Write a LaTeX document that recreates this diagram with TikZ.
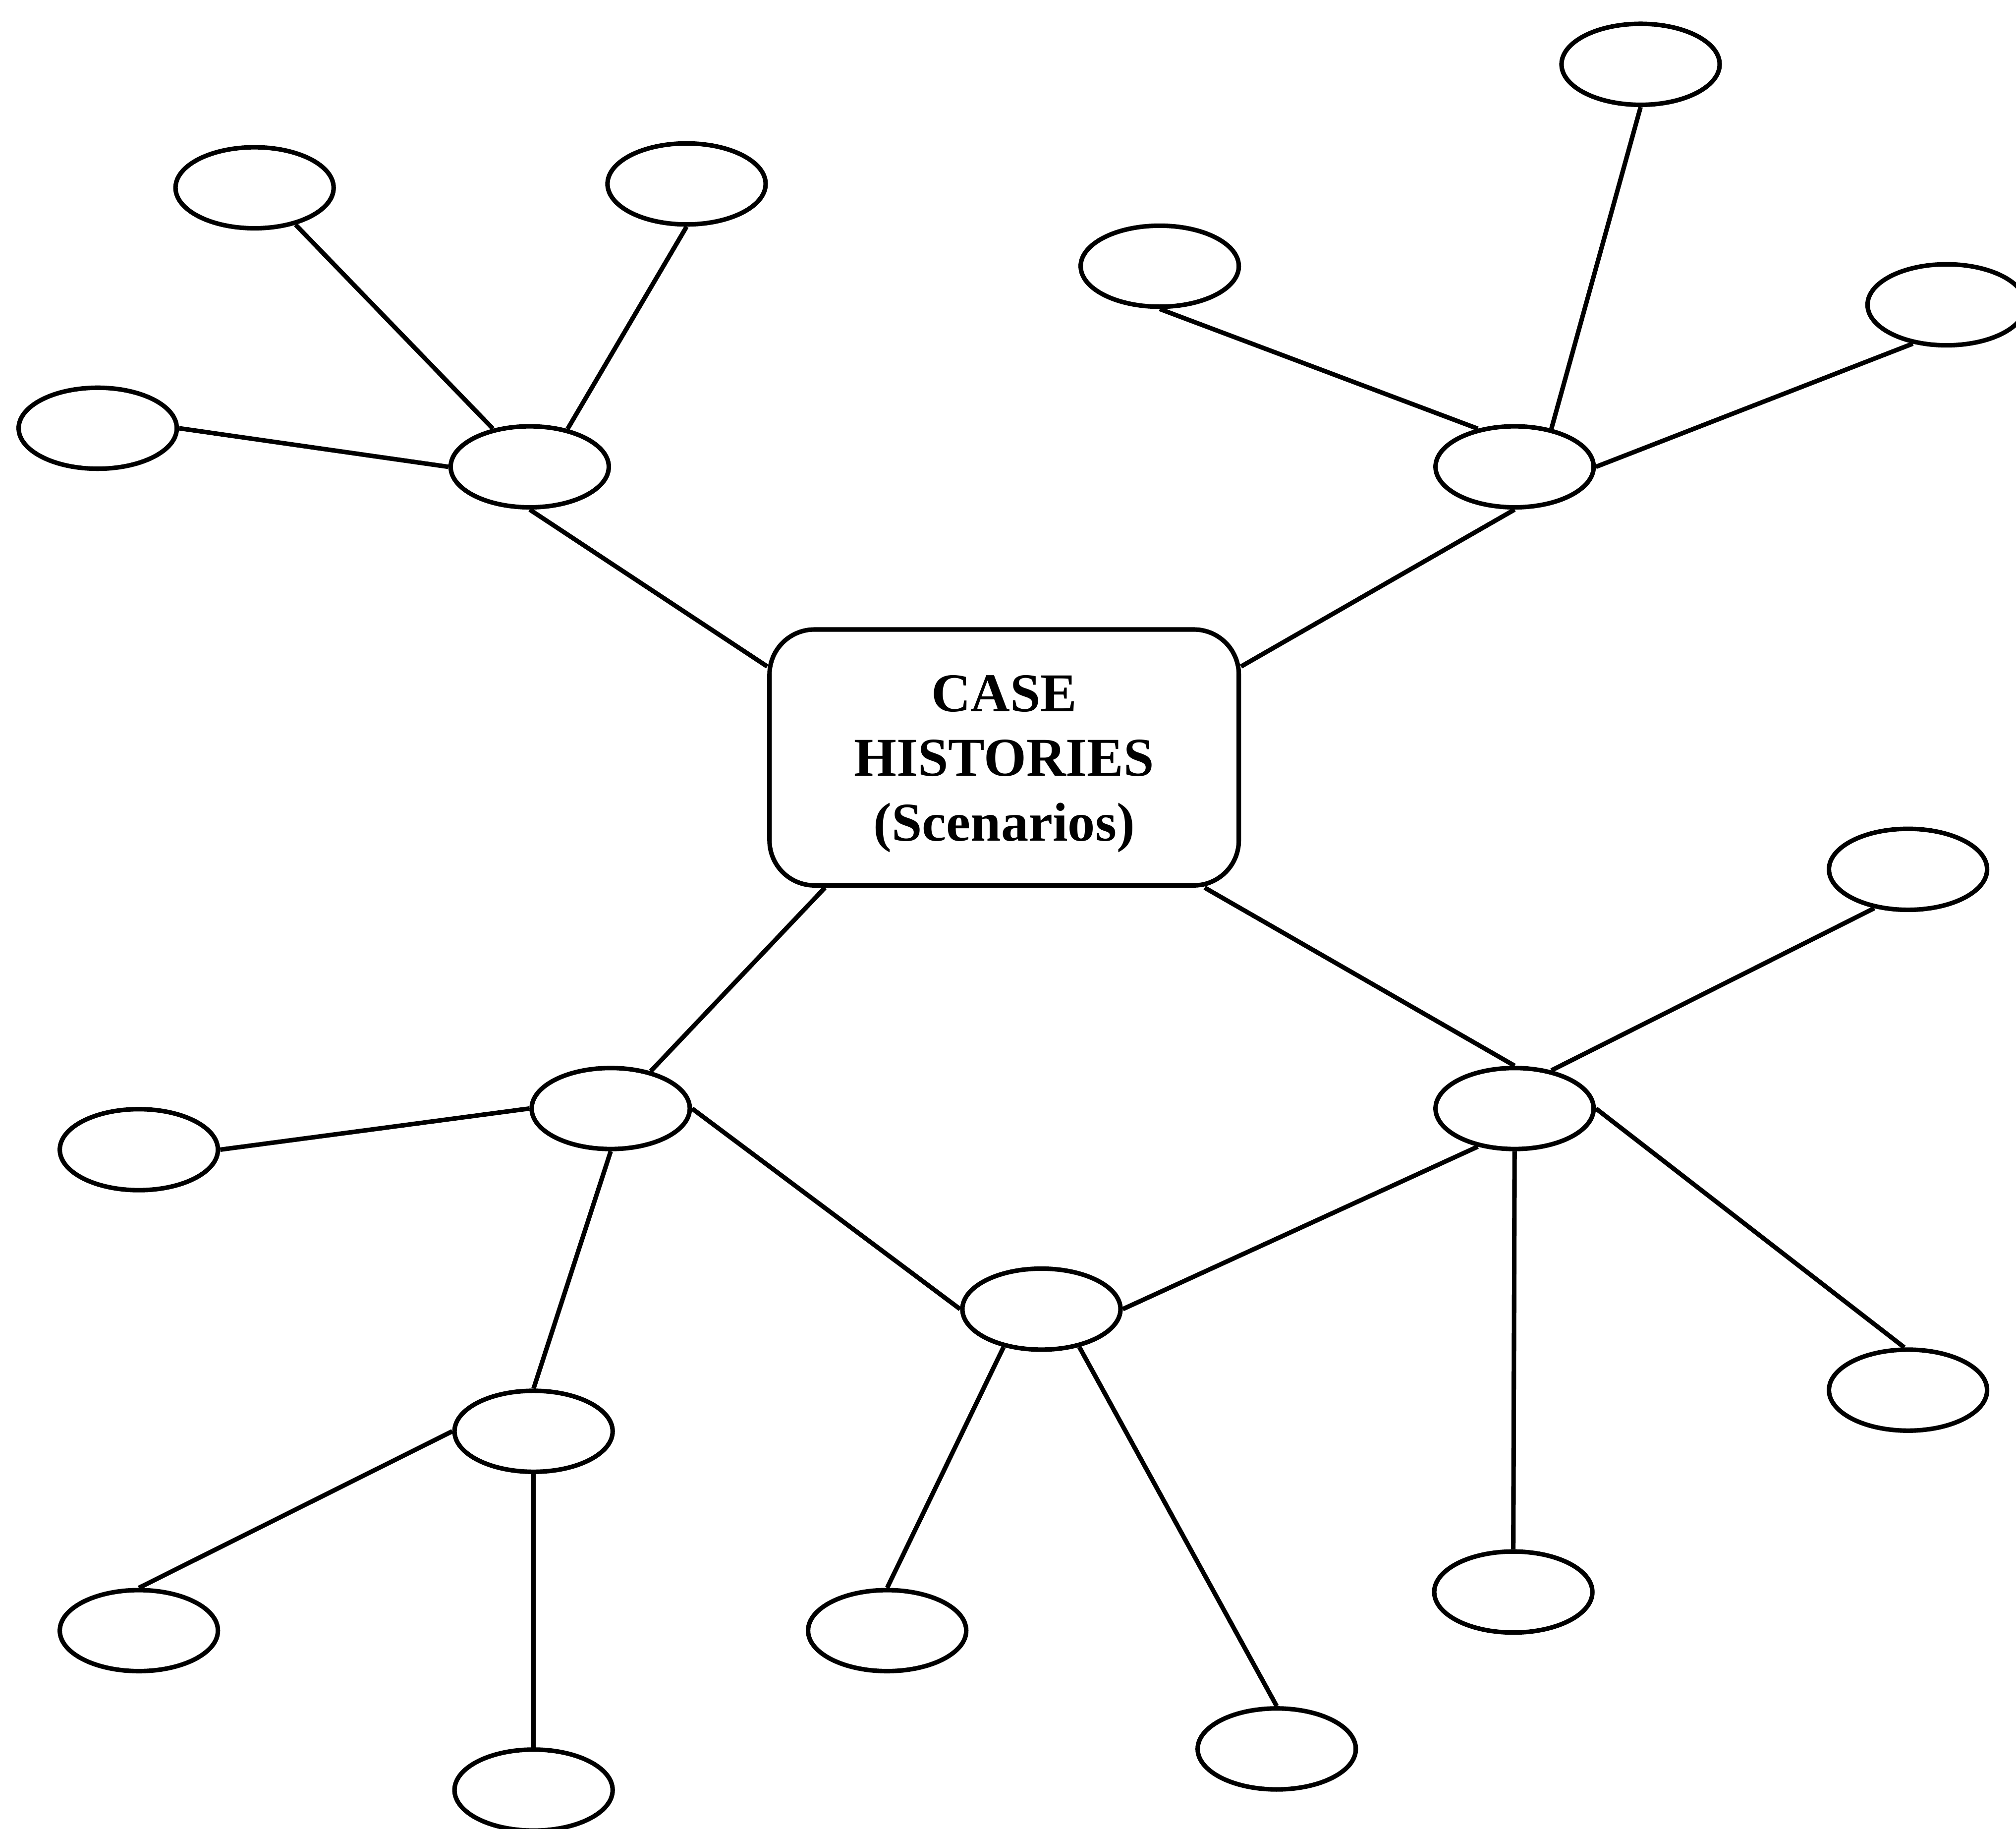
\documentclass[tikz,border=0pt]{standalone}
\usepackage{fontspec}
\setmainfont{Liberation Serif}
\usepackage{tikz}
\usetikzlibrary{shapes,positioning}

\begin{document}
\begin{tikzpicture}[
		bubble/.style={draw, ellipse, line width=1pt, minimum width=1.23cm, minimum height=0.63cm, inner sep=0pt},
		casebox/.style={draw, rounded corners=0.35cm, line width=1pt, minimum width=3.65cm, minimum height=1.99cm},
		casetext/.style={align=center, inner sep=0pt, font=\bfseries\fontsize{12.1}{14.3}\selectfont},
		every edge/.style={draw, line width=1pt}]
		\useasboundingbox (0,0) rectangle (15.68,-14.22);
		% Nodes
		\node[casebox] (cases) at (7.81,-5.89) {};
		\node[casetext] (casetitle) at ([yshift=-0.05cm]cases.center) {CASE\\HISTORIES\\(Scenarios)};

		\node[bubble] (tlhub) at (4.12,-3.63) {};
		\node[bubble] (tla) at (1.98,-1.46) {};
		\node[bubble] (tlb) at (5.34,-1.43) {};
		\node[bubble] (tlc) at (0.76,-3.33) {};

		\node[bubble] (trhub) at (11.78,-3.63) {};
		\node[bubble] (trtop) at (12.76,-0.50) {};
		\node[bubble] (trleft) at (9.02,-2.07) {};
		\node[bubble] (trright) at (15.14,-2.37) {};

		\node[bubble] (blhub) at (4.75,-8.62) {};
		\node[bubble] (blleft) at (1.08,-8.94) {};
		\node[bubble] (subhub) at (4.15,-11.13) {};
		\node[bubble] (subleft) at (1.08,-12.68) {};
		\node[bubble] (subbottom) at (4.15,-13.92) {};

		\node[bubble] (midhub) at (8.10,-10.18) {};
		\node[bubble] (midleft) at (6.90,-12.68) {};
		\node[bubble] (midright) at (9.93,-13.60) {};

		\node[bubble] (brhub) at (11.78,-8.62) {};
		\node[bubble] (brtop) at (14.84,-6.76) {};
		\node[bubble] (brright) at (14.84,-10.81) {};
		\node[bubble] (brbottom) at (11.77,-12.38) {};

		% Edges
		\draw (tlhub.south) edge (cases.159);
		\draw (tla.-42) edge (tlhub.134);
		\draw (tlb.south) edge (tlhub.45);
		\draw (tlc.east) edge (tlhub.west);

		\draw (trhub.south) edge (cases.21);
		\draw (trtop.south) edge (trhub.46);
		\draw (trleft.south) edge (trhub.134);
		\draw (trright.229) edge (trhub.east);

		\draw (cases.216) edge (blhub.43);
		\draw (blleft.east) edge (blhub.west);
		\draw (blhub.south) edge (subhub.north);
		\draw (blhub.east) edge (midhub.west);
		\draw (subhub.west) edge (subleft.north);
		\draw (subhub.south) edge (subbottom.north);

		\draw (midhub.225) edge (midleft.north);
		\draw (midhub.-45) edge (midright.north);
		\draw (midhub.east) edge (brhub.226);

		\draw (cases.-33) edge (brhub.north);
		\draw (brhub.46) edge (brtop.229);
		\draw (brhub.east) edge (brright.95);
		\draw (brhub.south) edge (brbottom.north);
	\end{tikzpicture}
\end{document}
